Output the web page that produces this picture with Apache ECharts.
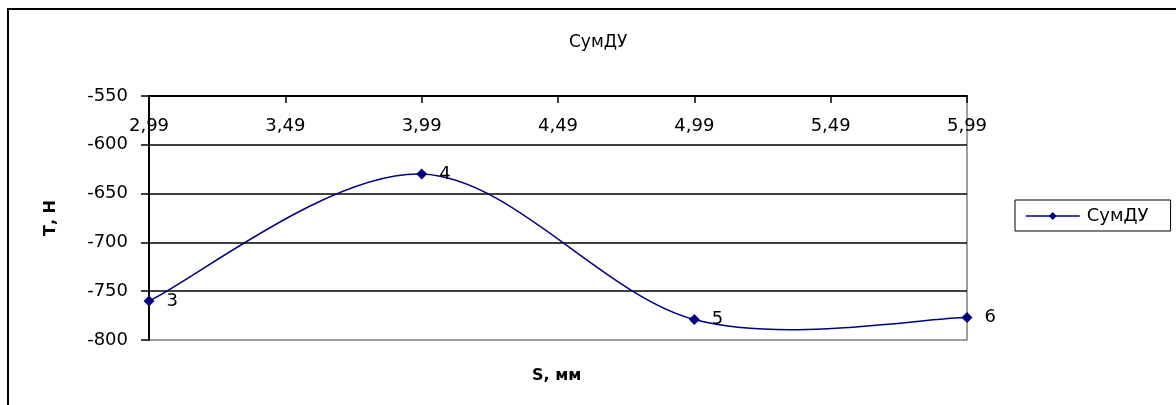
<!DOCTYPE html>
<html>
<head>
<meta charset="utf-8">
<script src="https://cdn.jsdelivr.net/npm/echarts@6/dist/echarts.min.js"></script>
<style>html,body{margin:0;padding:0;background:#fff;}#c{width:1176px;height:405px;}</style>
</head>
<body>
<div id="c"></div>
<script>
const seriesName = 'СумДУ';
const sValues = [2.99, 3.99, 4.99, 5.99];
const tValues = [-760, -630, -779, -777];
const pointLabels = ['3', '4', '5', '6'];
const xTicks = [2.99, 3.49, 3.99, 4.49, 4.99, 5.49, 5.99];
const yTicks = [-800, -750, -700, -650, -600, -550];
const titleText = 'СумДУ';
const xName = 'S, мм';
const yName = 'Т, Н';

const FONT = 'DejaVu Sans';
const NAVY = '#000080';
const chart = echarts.init(document.getElementById('c'), null, {renderer: 'canvas'});
const pts = sValues.map((s, i) => [s, tValues[i]]);
const data = pts.map((p, i) => ({value: p, label: {formatter: pointLabels[i]}}));

// Smooth curve (Excel-like Catmull-Rom bezier) computed in pixel space via the axes
function renderSegment(params, api) {
  const i = params.dataIndex;
  if (i >= pts.length - 1) return null;
  const P = k => api.coord(pts[Math.max(0, Math.min(pts.length - 1, k))]);
  const p0 = P(i - 1), p1 = P(i), p2 = P(i + 1), p3 = P(i + 2);
  return {
    type: 'bezierCurve',
    shape: {
      x1: p1[0], y1: p1[1], x2: p2[0], y2: p2[1],
      cpx1: p1[0] + (p2[0] - p0[0]) / 6, cpy1: p1[1] + (p2[1] - p0[1]) / 6,
      cpx2: p2[0] - (p3[0] - p1[0]) / 6, cpy2: p2[1] - (p3[1] - p1[1]) / 6
    },
    style: {stroke: NAVY, lineWidth: 1.5, fill: 'none'}
  };
}

chart.setOption({
  animation: false,
  backgroundColor: '#fff',
  title: [
    {text: titleText, left: 564, top: 29, textStyle: {fontFamily: FONT, fontSize: 17, fontWeight: 'normal', color: '#000'}},
    {text: xName, left: 527, top: 363, textStyle: {fontFamily: FONT, fontSize: 16, fontWeight: 'bold', color: '#000'}}
  ],
  legend: {
    left: 1015, top: 200, orient: 'vertical',
    padding: [7, 22, 6, 10],
    borderColor: '#000', borderWidth: 1,
    itemWidth: 54, itemHeight: 10,
    lineStyle: {color: NAVY, width: 1.5, opacity: 1},
    textStyle: {fontFamily: FONT, fontSize: 18, color: '#000', padding: [0, 0, 0, 2]},
    data: [seriesName]
  },
  grid: {left: 149, right: 209, top: 96, bottom: 65, show: true, borderColor: '#808080', borderWidth: 1.5, backgroundColor: 'transparent'},
  xAxis: {
    type: 'value', position: 'top', min: 2.99, max: 5.99,
    axisLine: {onZero: false, lineStyle: {color: '#000', width: 2}},
    axisTick: {inside: true, length: 7, customValues: xTicks, lineStyle: {color: '#000', width: 1.5}},
    axisLabel: {inside: true, margin: 21, customValues: xTicks, fontFamily: FONT, fontSize: 18, color: '#000',
      formatter: v => v.toFixed(2).replace('.', ',')},
    splitLine: {show: false}
  },
  yAxis: {
    type: 'value', min: -800, max: -550, interval: 50,
    name: yName, nameLocation: 'middle', nameGap: 90, nameRotate: 90,
    nameTextStyle: {fontFamily: FONT, fontSize: 16, fontWeight: 'bold', color: '#000'},
    axisLine: {onZero: false, lineStyle: {color: '#000', width: 2}},
    axisTick: {show: true, inside: false, length: 8, lineStyle: {color: '#000', width: 1.5}},
    axisLabel: {margin: 21, fontFamily: FONT, fontSize: 18, color: '#000', formatter: v => String(v)},
    splitLine: {show: true, showMinLine: false, showMaxLine: false, lineStyle: {color: '#000', width: 1.5}}
  },
  series: [{
    name: 'curve', type: 'custom', renderItem: renderSegment,
    data: pts, encode: {x: 0, y: 1}, silent: true, z: 4
  }, {
    name: seriesName, type: 'line',
    data: data,
    symbol: 'diamond', symbolSize: 11, showAllSymbol: true,
    itemStyle: {color: NAVY},
    lineStyle: {color: NAVY, width: 1.5, opacity: 0},
    label: {show: true, position: 'right', distance: 12, fontFamily: FONT, fontSize: 18, color: '#000'},
    z: 5
  }],
  graphic: [{
    type: 'rect', silent: true, z: 100,
    shape: {x: 8, y: 9, width: 1300, height: 600},
    style: {fill: 'none', stroke: '#000', lineWidth: 2}
  }]
});
</script>
</body>
</html>
